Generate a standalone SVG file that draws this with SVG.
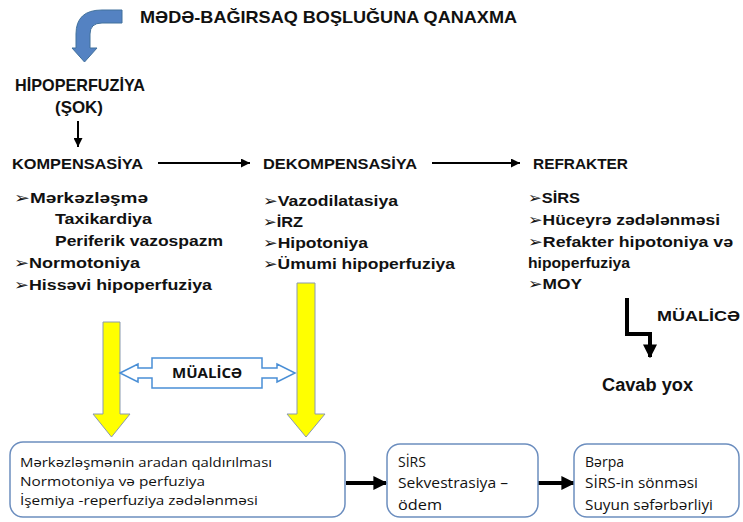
<svg xmlns="http://www.w3.org/2000/svg" width="743" height="522" viewBox="0 0 743 522">
<defs>
<style>
.h{font-family:"Liberation Sans",Arial,"DejaVu Sans",sans-serif;font-weight:bold;fill:#111;}
.c{font-family:"Open Sans","Liberation Sans","DejaVu Sans",sans-serif;fill:#111;}
.box{fill:#fff;stroke:#6c8ebf;stroke-width:1.5;}
.yel{fill:#ffff00;stroke:#8a99b0;stroke-width:1;}
.ln{stroke:#000;fill:none;}
</style>
<marker id="ah" viewBox="0 0 10 10" refX="10" refY="5" markerWidth="9" markerHeight="9" markerUnits="userSpaceOnUse" orient="auto">
<path d="M0,0 L10,5 L0,10 Z" fill="#000"/>
</marker>
<marker id="ahb" viewBox="0 0 10 10" refX="9" refY="5" markerWidth="14" markerHeight="15" markerUnits="userSpaceOnUse" orient="auto">
<path d="M0,0 L10,5 L0,10 Z" fill="#000"/>
</marker>
</defs>
<rect width="743" height="522" fill="#fff"/>

<g id="connectors">
<path id="blue-arrow" d="M122,10 L102,10 Q76,10 76,34 L76,48 L72,48 L84.5,62 L97,48 L90,48 L90,34 Q90,23 102,23 L122,23 Z" fill="#5482c2" stroke="#41719c" stroke-width="1"/>
<line class="ln" x1="78" y1="121" x2="78" y2="147" stroke-width="2" marker-end="url(#ah)"/>
<line class="ln" x1="158" y1="163" x2="250" y2="163" stroke-width="2" marker-end="url(#ah)"/>
<line class="ln" x1="432" y1="163" x2="520" y2="163" stroke-width="2" marker-end="url(#ah)"/>
<polyline class="ln" points="627,298 627,334 650,334 650,357" stroke-width="4" marker-end="url(#ahb)"/>
<line class="ln" x1="346" y1="483" x2="386" y2="483" stroke-width="4" marker-end="url(#ahb)"/>
<line class="ln" x1="538" y1="483" x2="574" y2="483" stroke-width="4" marker-end="url(#ahb)"/>
<path class="yel" d="M103,322 L120,322 L120,414 L130,414 L111.5,437 L93,414 L103,414 Z"/>
<path class="yel" d="M297,283 L315,283 L315,414 L325,414 L306,437 L287,414 L297,414 Z"/>
</g>

<g id="title">
<text class="h" x="140" y="23" font-size="17" textLength="377" lengthAdjust="spacingAndGlyphs">MƏDƏ-BAĞIRSAQ  BOŞLUĞUNA QANAXMA</text>
</g>

<g id="hipoperfuziya">
<text class="h" x="15" y="91" font-size="17" textLength="130" lengthAdjust="spacingAndGlyphs">HİPOPERFUZİYA</text>
<text class="h" x="55" y="113" font-size="17" textLength="48" lengthAdjust="spacingAndGlyphs">(ŞOK)</text>
</g>

<g id="kompensasiya">
<text class="h" x="12" y="169" font-size="15" textLength="131" lengthAdjust="spacingAndGlyphs">KOMPENSASİYA</text>
<text class="h" x="14" y="203" font-size="15" textLength="134" lengthAdjust="spacingAndGlyphs">➢Mərkəzləşmə</text>
<text class="h" x="55" y="224" font-size="15" textLength="97" lengthAdjust="spacingAndGlyphs">Taxikardiya</text>
<text class="h" x="55" y="246" font-size="15" textLength="168" lengthAdjust="spacingAndGlyphs">Periferik vazospazm</text>
<text class="h" x="14" y="268" font-size="15" textLength="126" lengthAdjust="spacingAndGlyphs">➢Normotoniya</text>
<text class="h" x="14" y="290" font-size="15" textLength="198" lengthAdjust="spacingAndGlyphs">➢Hissəvi hipoperfuziya</text>
</g>

<g id="dekompensasiya">
<text class="h" x="263" y="169" font-size="15" textLength="154" lengthAdjust="spacingAndGlyphs">DEKOMPENSASİYA</text>
<text class="h" x="263" y="206" font-size="15" textLength="135" lengthAdjust="spacingAndGlyphs">➢Vazodilatasiya</text>
<text class="h" x="263" y="227" font-size="15" textLength="40" lengthAdjust="spacingAndGlyphs">➢İRZ</text>
<text class="h" x="263" y="248" font-size="15" textLength="105" lengthAdjust="spacingAndGlyphs">➢Hipotoniya</text>
<text class="h" x="263" y="269" font-size="15" textLength="192" lengthAdjust="spacingAndGlyphs">➢Ümumi hipoperfuziya</text>
</g>

<g id="refrakter">
<text class="h" x="533" y="169" font-size="15" textLength="95" lengthAdjust="spacingAndGlyphs">REFRAKTER</text>
<text class="h" x="528" y="203" font-size="15" textLength="52" lengthAdjust="spacingAndGlyphs">➢SİRS</text>
<text class="h" x="528" y="225" font-size="15" textLength="192" lengthAdjust="spacingAndGlyphs">➢Hüceyrə zədələnməsi</text>
<text class="h" x="528" y="247" font-size="15" textLength="205" lengthAdjust="spacingAndGlyphs">➢Refakter hipotoniya və</text>
<text class="h" x="528" y="268" font-size="15" textLength="102" lengthAdjust="spacingAndGlyphs">hipoperfuziya</text>
<text class="h" x="528" y="289" font-size="15" textLength="54" lengthAdjust="spacingAndGlyphs">➢MOY</text>
</g>

<g id="mualice-right">
<text class="h" x="657" y="321" font-size="15" textLength="83" lengthAdjust="spacingAndGlyphs">MÜALİCƏ</text>
</g>

<g id="cavab-yox">
<text class="h" x="602" y="391" font-size="18" textLength="91" lengthAdjust="spacingAndGlyphs">Cavab yox</text>
</g>

<g id="mualice-callout">
<path d="M120,373 L138,364 L138,368 L152,368 L152,358 L262,358 L262,368 L277,368 L277,364 L295,373 L277,382 L277,378 L262,378 L262,388 L152,388 L152,378 L138,378 L138,382 Z" fill="#fff" stroke="#4a8fd6" stroke-width="1.5"/>
<text class="c" x="207" y="378" font-size="14" font-weight="bold" text-anchor="middle" textLength="70" lengthAdjust="spacingAndGlyphs">MÜALİCƏ</text>
</g>

<g id="box1">
<rect class="box" x="10" y="442" width="335" height="75" rx="13"/>
<text class="c" x="20" y="467" font-size="13" textLength="252" lengthAdjust="spacingAndGlyphs">Mərkəzləşmənin aradan qaldırılması</text>
<text class="c" x="20" y="486" font-size="13" textLength="185" lengthAdjust="spacingAndGlyphs">Normotoniya və perfuziya</text>
<text class="c" x="20" y="505" font-size="13" textLength="238" lengthAdjust="spacingAndGlyphs">İşemiya -reperfuziya zədələnməsi</text>
</g>

<g id="box2">
<rect class="box" x="387" y="444" width="151" height="73" rx="13"/>
<text class="c" x="398" y="467" font-size="14">SİRS</text>
<text class="c" x="398" y="488" font-size="14" textLength="110" lengthAdjust="spacingAndGlyphs">Sekvestrasiya –</text>
<text class="c" x="398" y="510" font-size="14" textLength="44" lengthAdjust="spacingAndGlyphs">ödem</text>
</g>

<g id="box3">
<rect class="box" x="574" y="444" width="165" height="73" rx="13"/>
<text class="c" x="585" y="467" font-size="14">Bərpa</text>
<text class="c" x="585" y="488" font-size="14" textLength="113" lengthAdjust="spacingAndGlyphs">SİRS-in sönməsi</text>
<text class="c" x="585" y="510" font-size="14" textLength="128" lengthAdjust="spacingAndGlyphs">Suyun səfərbərliyi</text>
</g>
</svg>
